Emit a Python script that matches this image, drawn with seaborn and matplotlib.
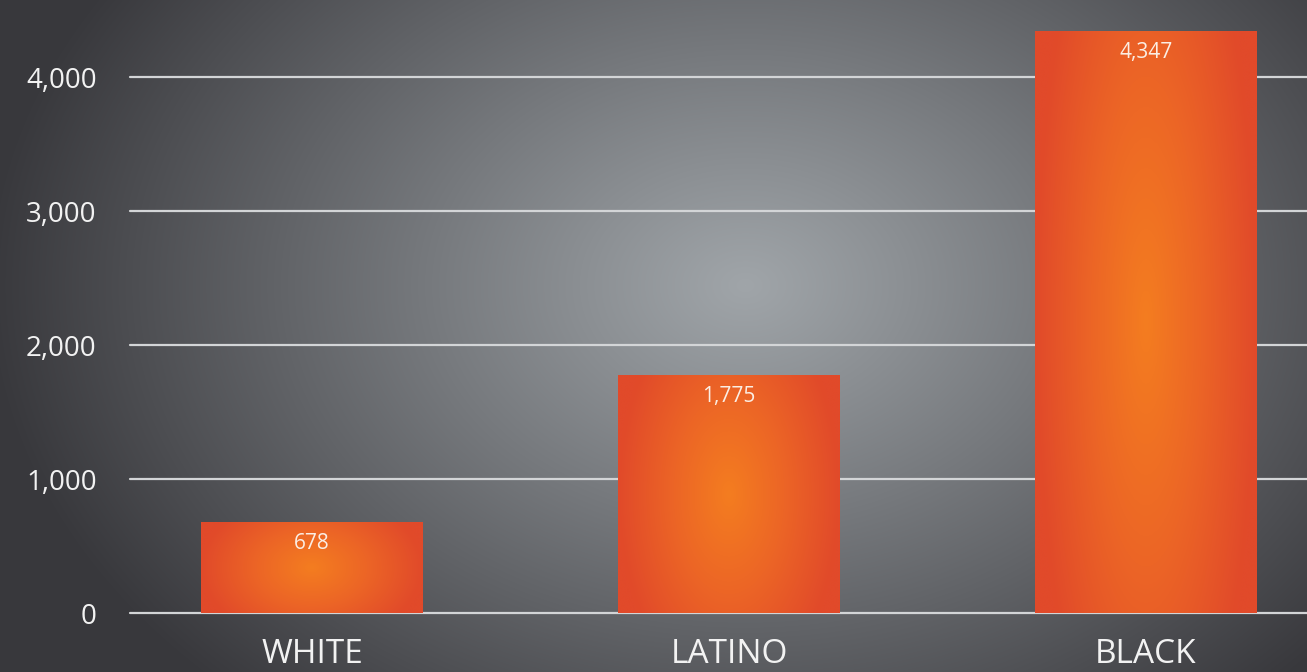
import numpy as np
import pandas as pd
import matplotlib
matplotlib.use("Agg")
import matplotlib.pyplot as plt
from matplotlib.colors import LinearSegmentedColormap
import seaborn as sns

categories = ["WHITE", "LATINO", "BLACK"]
values = [678, 1775, 4347]
value_labels = ["678", "1,775", "4,347"]
yticks = [0, 1000, 2000, 3000, 4000]
ytick_labels = ["0", "1,000", "2,000", "3,000", "4,000"]

sns.set_theme(style="white")
plt.rcParams['font.family'] = ['Open Sans', 'DejaVu Sans']

W, H = 1307, 672
fig = plt.figure(figsize=(W / 100, H / 100), dpi=100)

# background radial gradient
bg = fig.add_axes([0, 0, 1, 1])
yy, xx = np.mgrid[0:H, 0:W]
cx, cy = 745, 285
r = np.sqrt(((xx - cx) / 760.0) ** 2 + ((yy - cy) / 560.0) ** 2)
r = np.clip(r, 0, 1)
c0 = np.array([160, 165, 169]) / 255
c1 = np.array([56, 56, 60]) / 255
t = r ** 1.05
img = c0[None, None, :] * (1 - t[..., None]) + c1[None, None, :] * t[..., None]
bg.imshow(img, aspect="auto", extent=[0, 1, 0, 1], origin="upper")
bg.set_axis_off()

left = 130 / W
bottom = (H - 613) / H
ax = fig.add_axes([left, bottom, 1 - left, 1 - bottom])
ax.patch.set_alpha(0)

df = pd.DataFrame({"cat": categories, "val": values})
sns.barplot(data=df, x="cat", y="val", ax=ax, width=0.53, color="#e8602a",
            saturation=1, zorder=3)

# gradient fill for bars
cmap = LinearSegmentedColormap.from_list("og", ["#f47d20", "#ec6526", "#e14a2a"])
gy, gx = np.mgrid[-1:1:200j, -1:1:200j]
grad = np.sqrt(gx ** 2 * 1.0 + gy ** 2 * 0.35)
grad = np.clip(grad, 0, 1)
for p in ax.patches:
    x0, w, h = p.get_x(), p.get_width(), p.get_height()
    im = ax.imshow(grad, cmap=cmap, vmin=0, vmax=1, aspect="auto",
                   extent=[x0, x0 + w, 0, h], zorder=4, interpolation="bicubic")
    im.set_clip_path(p)
    p.set_edgecolor("none")

x_unit = 417.0
ax.set_xlim((130 - 312) / x_unit, (1307 - 312) / x_unit)
ax.set_ylim(0, 613 / 134 * 1000)

ax.set_yticks(yticks)
ax.set_yticklabels(ytick_labels)
ax.yaxis.grid(True, color="#d3d5d7", linewidth=1.6, zorder=1)
for gl in ax.get_ygridlines():
    gl.set_clip_on(False)
ax.xaxis.grid(False)
ax.tick_params(axis="y", length=0, pad=24, labelsize=20, labelcolor="#f2f2f2")
ax.tick_params(axis="x", length=0, pad=18, labelsize=24, labelcolor="#f2f2f2")
ax.set_xlabel("")
ax.set_ylabel("")
for s in ax.spines.values():
    s.set_visible(False)

for i, (v, lab) in enumerate(zip(values, value_labels)):
    ax.annotate(lab, xy=(i, v), xytext=(0, -8), textcoords="offset points",
                ha="center", va="top", color="#fbeee4", fontsize=15, zorder=6)

fig.savefig("out.png", dpi=100)
